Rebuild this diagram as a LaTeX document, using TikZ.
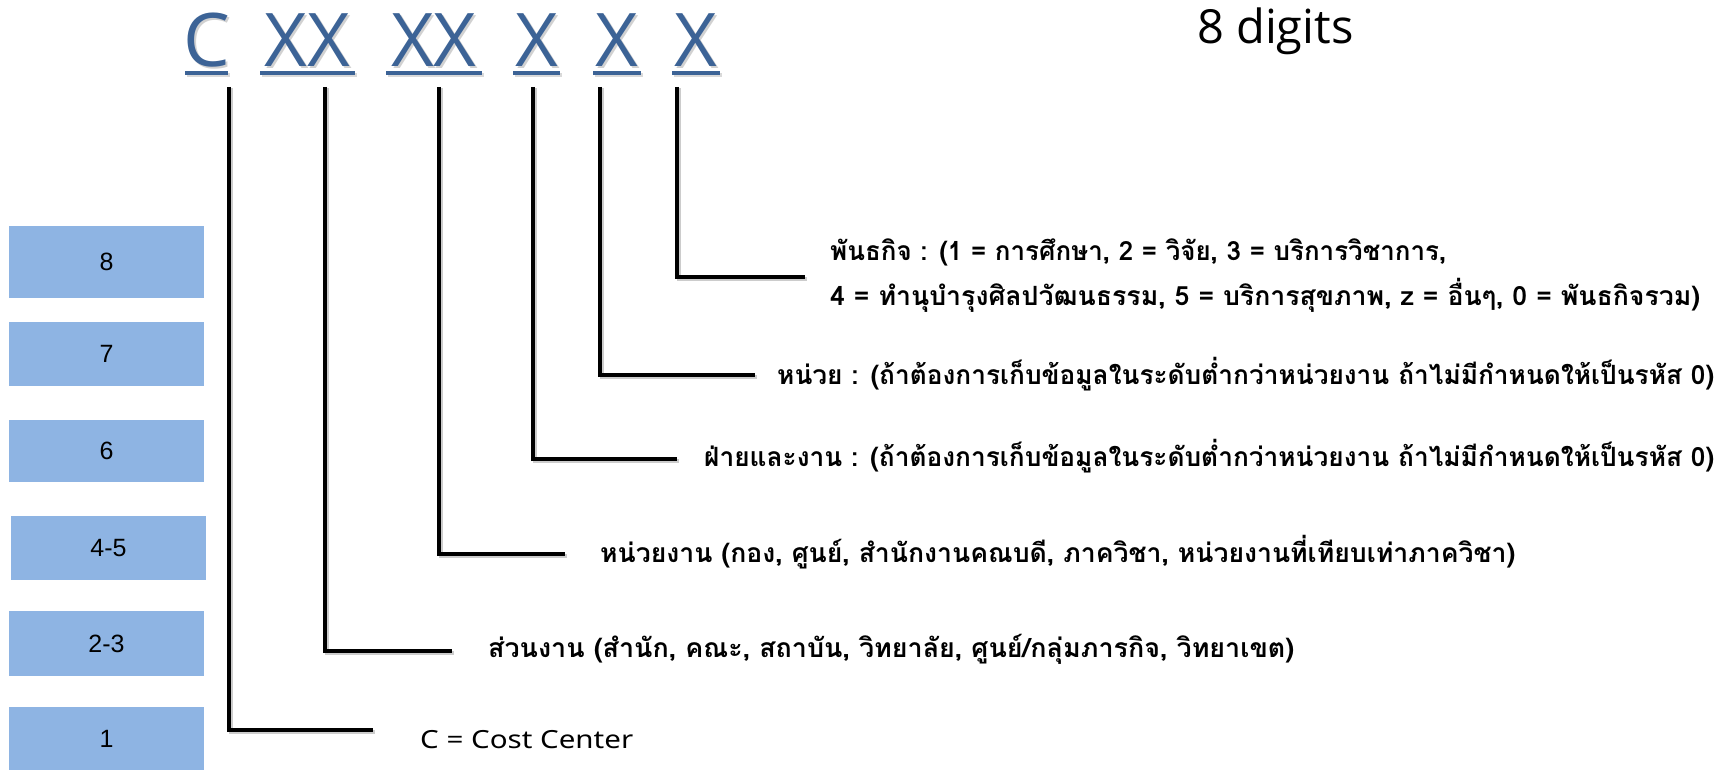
\documentclass[tikz,border=0pt]{standalone}
\usepackage{fontspec}
\usepackage{graphicx}
\newfontfamily\thaifont[Script=Thai]{Loma}
\newfontfamily\hdrfont{Open Sans}
\newfontfamily\boxfont{Liberation Sans}
\newfontfamily\latfont{Noto Sans}
\definecolor{hdrblue}{RGB}{60,99,150}
\definecolor{boxblue}{RGB}{142,180,227}
\newcommand{\fitw}[2]{\resizebox{#1}{\height}{#2}}
\tikzset{
  hdr/.style={font=\hdrfont\fontsize{74}{74}\selectfont, text=hdrblue, inner sep=0pt, anchor=base},
  hdrsh/.style={font=\hdrfont\fontsize{74}{74}\selectfont, text=black, opacity=0.18, inner sep=0pt, anchor=base},
  uline/.style={draw=hdrblue, line width=4.5pt},
  ushadow/.style={draw=black, opacity=0.15, line width=4.5pt},
  digitbox/.style={fill=boxblue, draw=none, inner sep=0pt},
  digitlbl/.style={font=\boxfont\fontsize{25}{25}\selectfont, inner sep=0pt},
  conn/.style={draw=black, line width=4pt, line join=miter},
  connsh/.style={draw=black, opacity=0.2, line width=4pt, line join=miter},
  desc/.style={font=\thaifont\bfseries\fontsize{26.5}{30}\selectfont, inner sep=0pt, anchor=base west},
  latdesc/.style={font=\latfont\fontsize{25}{30}\selectfont, inner sep=0pt, anchor=base west},
}
\begin{document}
\begin{tikzpicture}[x=1pt,y=-1pt]
\useasboundingbox (0,0) rectangle (1731,770);
% digit boxes
\path[digitbox] (9,226) rectangle (204,298);
\path[digitbox] (9,322) rectangle (204,386);
\path[digitbox] (9,420) rectangle (204,482);
\path[digitbox] (11,516) rectangle (206,580);
\path[digitbox] (9,611) rectangle (204,676);
\path[digitbox] (9,707) rectangle (204,770);
\node[digitlbl] (b8) at (106.5,262) {8};
\node[digitlbl] (b7) at (106.5,354) {7};
\node[digitlbl] (b6) at (106.5,451) {6};
\node[digitlbl] (b45) at (108.5,548) {4-5};
\node[digitlbl] (b23) at (106.5,643.5) {2-3};
\node[digitlbl] (b1) at (106.5,738.5) {1};
% header letters (shadow then text)
\foreach \x/\t in {208.5/C,309.5/XX,436/XX,538.5/X,619/X,698/X}{
  \node[hdrsh] at (\x,69) {\t};
}
\node[hdr] (hC) at (206.5,67) {C};
\node[hdr] (hXa) at (307.5,67) {XX};
\node[hdr] (hXb) at (434,67) {XX};
\node[hdr] (hX6) at (536.5,67) {X};
\node[hdr] (hX7) at (617,67) {X};
\node[hdr] (hX8) at (696,67) {X};
\foreach \a/\b in {185/228,260/355,386/482,513/560,593/641,672/720}{
  \draw[ushadow] (\a+1.5,75) -- (\b+1.5,75);
  \draw[uline] (\a,73) -- (\b,73);
}
% 8 digits
\node[font=\hdrfont\fontsize{47}{47}\selectfont, inner sep=0pt, anchor=base west] (nd) at (1197,44) {8 digits};
% descriptions
\node[desc] (t8a) at (830,260) {\fitw{616pt}{พันธกิจ : (1 = การศึกษา, 2 = วิจัย, 3 = บริการวิชาการ,}};
\node[desc] (t8b) at (830,305) {\fitw{870pt}{4 = ทำนุบำรุงศิลปวัฒนธรรม, 5 = บริการสุขภาพ, z = อื่นๆ, 0 = พันธกิจรวม)}};
\node[desc] (t7) at (777,384) {\fitw{937pt}{หน่วย : (ถ้าต้องการเก็บข้อมูลในระดับต่ำกว่าหน่วยงาน ถ้าไม่มีกำหนดให้เป็นรหัส 0)}};
\node[desc] (t6) at (704,466) {\fitw{1010pt}{ฝ่ายและงาน : (ถ้าต้องการเก็บข้อมูลในระดับต่ำกว่าหน่วยงาน ถ้าไม่มีกำหนดให้เป็นรหัส 0)}};
\node[desc] (t45) at (600,562) {\fitw{915pt}{หน่วยงาน (กอง, ศูนย์, สำนักงานคณบดี, ภาควิชา, หน่วยงานที่เทียบเท่าภาควิชา)}};
\node[desc] (t23) at (488,657) {\fitw{806pt}{ส่วนงาน (สำนัก, คณะ, สถาบัน, วิทยาลัย, ศูนย์/กลุ่มภารกิจ, วิทยาเขต)}};
\node[latdesc] (t1) at (420,748) {\fitw{213pt}{C = Cost Center}};
% connector coordinates
\coordinate (sC) at (229,87);   \coordinate (eC) at (373,730);
\coordinate (sXa) at (325,87);  \coordinate (eXa) at (452,651);
\coordinate (sXb) at (439,87);  \coordinate (eXb) at (565,554);
\coordinate (s6) at (533,87);   \coordinate (e6) at (677,459);
\coordinate (s7) at (600,87);   \coordinate (e7) at (755,375);
\coordinate (s8) at (677,87);   \coordinate (e8) at (805,277);
\foreach \s/\e in {sC/eC,sXa/eXa,sXb/eXb,s6/e6,s7/e7,s8/e8}{
  \draw[connsh] ([shift={(1.5,1.5)}]\s) |- ([shift={(1.5,1.5)}]\e);
}
\foreach \s/\e in {sC/eC,sXa/eXa,sXb/eXb,s6/e6,s7/e7,s8/e8}{
  \draw[conn] (\s) |- (\e);
}
\end{tikzpicture}
\end{document}
